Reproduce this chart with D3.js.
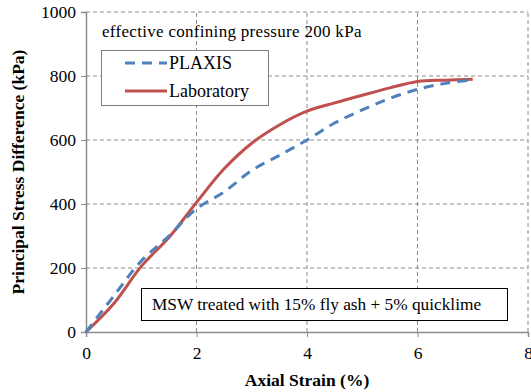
<!DOCTYPE html>
<html>
<head>
<meta charset="utf-8">
<script src="https://cdn.jsdelivr.net/npm/d3@7"></script>
<style>
  body { margin: 0; background: #fff; }
  svg text { font-family: "Liberation Serif", "Times New Roman", serif; fill: #000; }
</style>
</head>
<body>
<svg id="chart" width="531" height="392"></svg>
<script>
const strain = [0, 0.5, 1, 1.5, 2, 2.5, 3, 3.5, 4, 4.5, 5, 5.5, 6, 6.5, 7];
const plaxis = [0, 112, 222, 300, 385, 438, 505, 552, 600, 653, 694, 730, 758, 777, 788];
const laboratory = [0, 88, 205, 295, 405, 510, 590, 647, 690, 716, 740, 763, 783, 787, 790];
const xTicks = [0, 2, 4, 6, 8];
const yTicks = [0, 200, 400, 600, 800, 1000];

const margin = {left: 86, right: 3, top: 12, bottom: 60};
const width = 531, height = 392;
const serif = '"Liberation Serif", "Times New Roman", serif';

const svg = d3.select('#chart');

const x = d3.scaleLinear().domain([0, 8]).range([margin.left, width - margin.right]);
const y = d3.scaleLinear().domain([0, 1000]).range([height - margin.bottom, margin.top]);

// grid
const grid = svg.append('g');
grid.selectAll('.gx')
  .data(xTicks.filter(d => d > 0))
  .enter().append('line')
  .attr('x1', d => x(d)).attr('x2', d => x(d))
  .attr('y1', y(0)).attr('y2', y(1000))
  .attr('stroke', '#8c8c8c').attr('stroke-dasharray', '4,3');
grid.selectAll('.gy')
  .data(yTicks.filter(d => d > 0))
  .enter().append('line')
  .attr('x1', x(0)).attr('x2', x(8))
  .attr('y1', d => y(d)).attr('y2', d => y(d))
  .attr('stroke', '#8c8c8c').attr('stroke-dasharray', '4,3');

// axes
const xAxis = svg.append('g')
  .attr('transform', `translate(0,${y(0)})`)
  .call(d3.axisBottom(x).tickValues(xTicks).tickFormat(d3.format('d')).tickSize(5).tickPadding(10));
const yAxis = svg.append('g')
  .attr('transform', `translate(${x(0)},0)`)
  .call(d3.axisLeft(y).tickValues(yTicks).tickFormat(d3.format('d')).tickSize(5).tickPadding(5));
[xAxis, yAxis].forEach(a => {
  a.attr('font-family', serif);
  a.select('.domain').attr('stroke', '#8c8c8c').attr('stroke-width', 1.5);
  a.selectAll('.tick line').attr('stroke', '#8c8c8c');
  a.selectAll('.tick text').attr('font-size', 17.5).attr('font-family', serif);
});

// lines
const pts = vals => strain.map((s, i) => [s, vals[i]]);
const line = d3.line().curve(d3.curveCatmullRom.alpha(0.5))
  .x(d => x(d[0])).y(d => y(d[1]));

svg.append('path')
  .attr('d', line(pts(laboratory)))
  .attr('fill', 'none').attr('stroke', '#C0504D').attr('stroke-width', 3);
svg.append('path')
  .attr('d', line(pts(plaxis)))
  .attr('fill', 'none').attr('stroke', '#4F81BD').attr('stroke-width', 3)
  .attr('stroke-dasharray', '10,7');

// title note
svg.append('text').attr('x', 102).attr('y', 37).attr('font-family', serif)
  .attr('font-size', 17).attr('letter-spacing', 0.3).text('effective confining pressure 200 kPa');

// legend
const lg = svg.append('g');
lg.append('rect').attr('x', 101.5).attr('y', 50.5).attr('width', 167).attr('height', 55)
  .attr('fill', '#fff').attr('stroke', '#7f7f7f');
const legendItems = [
  {name: 'PLAXIS', color: '#4F81BD', dash: '10,7', y: 63},
  {name: 'Laboratory', color: '#C0504D', dash: null, y: 91}
];
legendItems.forEach(it => {
  lg.append('line').attr('x1', 125).attr('x2', 167).attr('y1', it.y).attr('y2', it.y)
    .attr('stroke', it.color).attr('stroke-width', 3)
    .attr('stroke-dasharray', it.dash);
  lg.append('text').attr('x', 169).attr('y', it.y + 6).attr('font-family', serif)
    .attr('font-size', 18).text(it.name);
});

// annotation
svg.append('rect').attr('x', 141.5).attr('y', 288.5).attr('width', 366).attr('height', 32)
  .attr('fill', '#fff').attr('stroke', '#000');
svg.append('text').attr('x', 152).attr('y', 310).attr('font-family', serif)
  .attr('font-size', 17.3).text('MSW treated with 15% fly ash + 5% quicklime');

// axis titles
svg.append('text').attr('x', x(4)).attr('y', 386).attr('text-anchor', 'middle')
  .attr('font-family', serif)
  .attr('font-size', 17.5).attr('font-weight', 'bold').text('Axial Strain (%)');
svg.append('text').attr('transform', `translate(24,${(y(0) + y(1000)) / 2}) rotate(-90)`)
  .attr('text-anchor', 'middle').attr('font-family', serif)
  .attr('font-size', 17.5).attr('font-weight', 'bold').text('Principal Stress Difference (kPa)');
</script>
</body>
</html>
